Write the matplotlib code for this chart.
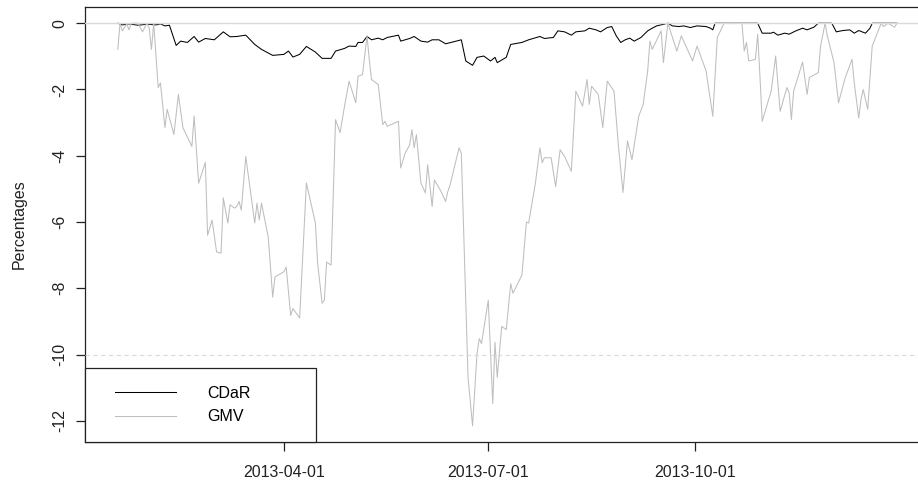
import pandas as pd
import matplotlib
matplotlib.use("Agg")
import matplotlib.pyplot as plt
import matplotlib.dates as mdates
from matplotlib.legend_handler import HandlerLine2D

# ── Data (drawdowns, %) ──────────────────────────────────────────────────────
gmv_dates = [
    "2013-01-17", "2013-01-18", "2013-01-19", "2013-01-21", "2013-01-22", "2013-01-23",
    "2013-01-26", "2013-01-28", "2013-01-30", "2013-01-31", "2013-02-01", "2013-02-02",
    "2013-02-04", "2013-02-05", "2013-02-07", "2013-02-08", "2013-02-11", "2013-02-13",
    "2013-02-15", "2013-02-19", "2013-02-20", "2013-02-22", "2013-02-25", "2013-02-26",
    "2013-02-28", "2013-03-02", "2013-03-04", "2013-03-05", "2013-03-07", "2013-03-08",
    "2013-03-10", "2013-03-11", "2013-03-12", "2013-03-13", "2013-03-15", "2013-03-19",
    "2013-03-20", "2013-03-21", "2013-03-22", "2013-03-25", "2013-03-27", "2013-03-28",
    "2013-04-01", "2013-04-02", "2013-04-04", "2013-04-05", "2013-04-08", "2013-04-11",
    "2013-04-15", "2013-04-16", "2013-04-18", "2013-04-19", "2013-04-20", "2013-04-22",
    "2013-04-24", "2013-04-26", "2013-04-28", "2013-04-30", "2013-05-03", "2013-05-04",
    "2013-05-06", "2013-05-08", "2013-05-09", "2013-05-10", "2013-05-13", "2013-05-15",
    "2013-05-16", "2013-05-17", "2013-05-22", "2013-05-23", "2013-05-25", "2013-05-27",
    "2013-05-28", "2013-05-29", "2013-05-30", "2013-06-01", "2013-06-03", "2013-06-04",
    "2013-06-06", "2013-06-07", "2013-06-10", "2013-06-12", "2013-06-13", "2013-06-14",
    "2013-06-16", "2013-06-18", "2013-06-19", "2013-06-21", "2013-06-22", "2013-06-24",
    "2013-06-26", "2013-06-27", "2013-06-28", "2013-07-01", "2013-07-03", "2013-07-04",
    "2013-07-05", "2013-07-07", "2013-07-09", "2013-07-11", "2013-07-12", "2013-07-16",
    "2013-07-18", "2013-07-19", "2013-07-22", "2013-07-24", "2013-07-25", "2013-07-26",
    "2013-07-29", "2013-07-31", "2013-08-02", "2013-08-04", "2013-08-07", "2013-08-09",
    "2013-08-12", "2013-08-14", "2013-08-15", "2013-08-16", "2013-08-19", "2013-08-21",
    "2013-08-23", "2013-08-26", "2013-08-28", "2013-08-30", "2013-09-01", "2013-09-03",
    "2013-09-06", "2013-09-08", "2013-09-10", "2013-09-11", "2013-09-12", "2013-09-16",
    "2013-09-17", "2013-09-19", "2013-09-23", "2013-09-25", "2013-09-30", "2013-10-02",
    "2013-10-06", "2013-10-07", "2013-10-09", "2013-10-11", "2013-10-14", "2013-10-22",
    "2013-10-23", "2013-10-24", "2013-10-25", "2013-10-28", "2013-10-29", "2013-10-30",
    "2013-10-31", "2013-11-04", "2013-11-06", "2013-11-08", "2013-11-11", "2013-11-12",
    "2013-11-13", "2013-11-14", "2013-11-18", "2013-11-20", "2013-11-21", "2013-11-25",
    "2013-11-26", "2013-11-28", "2013-11-29", "2013-12-02", "2013-12-04", "2013-12-07",
    "2013-12-10", "2013-12-11", "2013-12-13", "2013-12-14", "2013-12-15", "2013-12-17",
    "2013-12-18", "2013-12-19", "2013-12-23", "2013-12-24", "2013-12-26", "2013-12-29",
    "2013-12-30",
]
gmv_values = [
    -0.79, 0.00, -0.23, -0.02, -0.20, 0.00,
    0.00, -0.26, 0.00, -0.15, -0.79, 0.00,
    -1.94, -1.80, -3.15, -2.60, -3.36, -2.15,
    -3.15, -3.72, -2.80, -4.83, -4.20, -6.40,
    -5.94, -6.90, -6.94, -5.27, -6.03, -5.48,
    -5.58, -5.53, -5.38, -5.64, -4.02, -6.03,
    -5.43, -5.94, -5.43, -6.45, -8.27, -7.66,
    -7.50, -7.36, -8.82, -8.61, -8.90, -4.82,
    -6.03, -7.24, -8.45, -8.36, -7.21, -7.30,
    -2.91, -3.30, -2.50, -1.75, -2.40, -1.60,
    -1.55, -0.38, -1.09, -1.70, -1.85, -3.06,
    -2.96, -3.11, -2.96, -4.37, -3.92, -3.67,
    -3.21, -3.76, -3.36, -4.82, -5.12, -4.27,
    -5.53, -4.73, -5.08, -5.38, -5.08, -4.88,
    -4.32, -3.76, -3.92, -8.45, -10.69, -12.15,
    -9.97, -9.52, -9.67, -8.36, -11.48, -9.63,
    -10.69, -9.15, -9.25, -7.86, -8.15, -7.60,
    -6.00, -6.03, -4.82, -3.76, -4.21, -4.06,
    -4.06, -4.93, -3.82, -4.02, -4.47, -2.05,
    -2.50, -1.70, -2.45, -1.90, -2.15, -3.15,
    -1.75, -2.05, -3.72, -5.11, -3.55, -4.12,
    -2.81, -2.45, -1.44, -0.54, -0.79, -0.23,
    -1.19, 0.00, -0.84, -0.38, -1.14, -0.69,
    -1.44, -1.90, -2.81, -0.43, 0.00, 0.00,
    -0.84, -0.58, -1.14, -1.09, -0.33, -1.60,
    -2.96, -2.05, -0.99, -2.66, -1.94, -2.10,
    -2.91, -2.05, -1.17, -2.15, -1.64, -1.49,
    -0.69, 0.00, -0.38, -1.19, -2.40, -1.64,
    -1.09, -1.80, -2.86, -2.30, -2.00, -2.60,
    -1.64, -0.69, 0.00, -0.10, 0.00, -0.12,
    0.00,
]

cdar_dates = [
    "2013-01-17", "2013-01-19", "2013-01-22", "2013-01-26", "2013-01-30", "2013-02-03",
    "2013-02-05", "2013-02-07", "2013-02-09", "2013-02-12", "2013-02-14", "2013-02-17",
    "2013-02-20", "2013-02-22", "2013-02-25", "2013-03-01", "2013-03-05", "2013-03-08",
    "2013-03-11", "2013-03-15", "2013-03-19", "2013-03-22", "2013-03-27", "2013-04-01",
    "2013-04-03", "2013-04-05", "2013-04-08", "2013-04-11", "2013-04-15", "2013-04-18",
    "2013-04-22", "2013-04-24", "2013-04-28", "2013-04-30", "2013-05-03", "2013-05-04",
    "2013-05-06", "2013-05-08", "2013-05-10", "2013-05-13", "2013-05-15", "2013-05-17",
    "2013-05-22", "2013-05-23", "2013-05-27", "2013-05-29", "2013-06-01", "2013-06-04",
    "2013-06-06", "2013-06-09", "2013-06-12", "2013-06-15", "2013-06-19", "2013-06-21",
    "2013-06-24", "2013-06-26", "2013-06-29", "2013-07-02", "2013-07-04", "2013-07-05",
    "2013-07-09", "2013-07-11", "2013-07-16", "2013-07-19", "2013-07-24", "2013-07-26",
    "2013-07-30", "2013-08-01", "2013-08-04", "2013-08-07", "2013-08-09", "2013-08-13",
    "2013-08-15", "2013-08-18", "2013-08-20", "2013-08-23", "2013-08-25", "2013-08-27",
    "2013-08-29", "2013-08-31", "2013-09-02", "2013-09-04", "2013-09-07", "2013-09-10",
    "2013-09-12", "2013-09-14", "2013-09-19", "2013-09-21", "2013-09-24", "2013-09-26",
    "2013-09-29", "2013-10-02", "2013-10-06", "2013-10-08", "2013-10-09", "2013-10-10",
    "2013-10-29", "2013-10-31", "2013-11-04", "2013-11-05", "2013-11-07", "2013-11-10",
    "2013-11-12", "2013-11-15", "2013-11-18", "2013-11-20", "2013-11-23", "2013-11-25",
    "2013-12-01", "2013-12-03", "2013-12-06", "2013-12-09", "2013-12-11", "2013-12-13",
    "2013-12-16", "2013-12-18", "2013-12-19", "2013-12-30",
]
cdar_values = [
    0.00, -0.05, -0.02, -0.06, -0.03, -0.05,
    -0.02, -0.08, -0.06, -0.67, -0.54, -0.58,
    -0.40, -0.57, -0.46, -0.50, -0.26, -0.41,
    -0.40, -0.36, -0.64, -0.79, -0.97, -0.94,
    -0.84, -1.02, -0.94, -0.70, -0.87, -1.06,
    -1.06, -0.84, -0.76, -0.69, -0.70, -0.58,
    -0.58, -0.40, -0.50, -0.45, -0.50, -0.43,
    -0.36, -0.54, -0.46, -0.40, -0.54, -0.57,
    -0.50, -0.50, -0.62, -0.57, -0.50, -1.14,
    -1.27, -1.03, -0.99, -1.14, -1.03, -1.19,
    -1.03, -0.64, -0.58, -0.50, -0.40, -0.46,
    -0.43, -0.23, -0.26, -0.36, -0.26, -0.23,
    -0.15, -0.20, -0.26, -0.13, -0.10, -0.38,
    -0.58, -0.50, -0.45, -0.54, -0.43, -0.23,
    -0.15, -0.08, 0.00, -0.08, -0.10, -0.08,
    -0.13, -0.08, -0.10, -0.15, -0.20, 0.00,
    0.00, -0.30, -0.30, -0.27, -0.36, -0.30,
    -0.33, -0.23, -0.15, -0.20, -0.12, 0.00,
    0.00, -0.26, -0.22, -0.20, -0.30, -0.22,
    -0.30, -0.15, 0.00, 0.00,
]

x_ticks = ["2013-04-01", "2013-07-01", "2013-10-01"]
y_ticks = [0, -2, -4, -6, -8, -10, -12]

# ── Plot ─────────────────────────────────────────────────────────────────────
plt.rcParams["font.family"] = ["Liberation Sans", "DejaVu Sans"]
plt.rcParams["font.size"] = 11.5

fig = plt.figure(figsize=(9.18, 4.83), dpi=100)
ax = fig.add_axes([85 / 918, 1 - 442 / 483, 844 / 918, 435 / 483])

ax.plot(pd.to_datetime(cdar_dates), cdar_values, color="black", lw=0.75, label="CDaR")
ax.plot(pd.to_datetime(gmv_dates), gmv_values, color="#bebebe", lw=0.75, label="GMV")

# reference lines drawn on top, as in the original
ax.axhline(0, color="#d9d9d9", lw=1.0, zorder=5)
ax.axhline(-10, color="#d9d9d9", lw=0.8, ls=(0, (4, 3)), zorder=5)

ax.set_xlim(pd.Timestamp("2013-01-02 09:36"), pd.Timestamp("2014-01-13 07:00"))
ax.set_ylim(-12.64, 0.49)

ax.set_xticks(pd.to_datetime(x_ticks))
ax.xaxis.set_major_formatter(mdates.DateFormatter("%Y-%m-%d"))
ax.set_yticks(y_ticks)
ax.set_yticklabels([str(v) for v in y_ticks], rotation=90, va="center")

ax.tick_params(axis="both", direction="out", length=6.5, width=0.9, colors="#222222")
ax.tick_params(axis="x", pad=10)
ax.tick_params(axis="y", pad=6)

for side in ["left", "bottom", "top"]:
    ax.spines[side].set_linewidth(0.9)
    ax.spines[side].set_color("#222222")
ax.spines["right"].set_visible(False)

fig.text(19.5 / 918, 1 - 224.5 / 483, "Percentages", rotation=90,
         ha="center", va="center", color="#222222")

handler = HandlerLine2D(xpad=0.78)
leg = ax.legend(loc="lower left", bbox_to_anchor=(0, 0, 231 / 844, 0.2),
                mode="expand", borderaxespad=0, fancybox=False,
                borderpad=1.1, labelspacing=0.53, handlelength=4.59,
                handletextpad=1.94, edgecolor="#222222", framealpha=1,
                handler_map={plt.Line2D: handler})
leg.get_frame().set_linewidth(0.9)
leg.set_zorder(10)

plt.savefig("out.png", dpi=100)
plt.close()
